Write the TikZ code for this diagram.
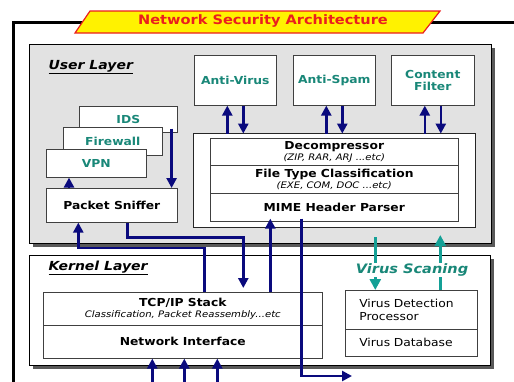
\documentclass[tikz,border=0pt]{standalone}
\usepackage{fontspec}
\setmainfont{DejaVu Sans}[FakeStretch=1.12]
\usetikzlibrary{arrows.meta,shadows}
\definecolor{navyarr}{RGB}{10,10,125}
\definecolor{tealtxt}{RGB}{25,135,120}
\definecolor{tealarr}{RGB}{20,160,150}
\definecolor{layerfill}{RGB}{226,226,226}
\definecolor{bannerred}{RGB}{235,30,30}
\newcommand\subtxt[1]{{\normalfont\itshape\fontsize{9}{10}\selectfont #1}}

\begin{document}
\begin{tikzpicture}[
        x=1pt, y=-1pt,
        layer/.style={draw=black, line width=1.2pt, anchor=north west, inner sep=0pt,
            drop shadow={shadow xshift=3pt, shadow yshift=-3pt, fill=black!65, opacity=1}},
        box/.style={draw=black!75, line width=0.6pt, fill=white, anchor=north west, inner sep=0pt,
            align=center, font=\bfseries\fontsize{11}{12}\selectfont},
        tool/.style={box, text=tealtxt},
        virus/.style={box, font=\fontsize{11}{13.5}\selectfont, align=left, inner xsep=14pt,
            text width=104pt, minimum width=132pt},
        lbl/.style={anchor=west, font=\bfseries\itshape\fontsize{12.5}{14}\selectfont},
        arr/.style={draw=navyarr, line width=2.6pt, -{Triangle[width=10pt,length=10pt]}},
        tarr/.style={draw=tealarr, line width=2.8pt, -{Triangle[width=11pt,length=11pt]}},
    ]
    \useasboundingbox (0,0) rectangle (514,381);
    \draw[line width=3pt] (516,22) -| (13,384);

    \node[layer, fill=layerfill, minimum width=462pt, minimum height=199pt] (user) at (29,44) {};
    \node[layer, fill=white, minimum width=461pt, minimum height=110pt] (kernel) at (29,255) {};
    \node[lbl] (userlbl) at (45,67) {\underline{User Layer}};
    \node[lbl] (kernellbl) at (45,268) {\underline{Kernel Layer}};

    \draw[bannerred, fill=yellow, line width=1.2pt] (90,11) -- (440,11) -- (423,33) -- (75,33) -- cycle;
    \node[text=bannerred, font=\bfseries\fontsize{13}{14}\selectfont] (title) at (263,21) {Network Security Architecture};

    \node[tool, minimum width=82pt, minimum height=50pt] (av) at (194,55) {Anti-Virus};
    \node[tool, minimum width=82pt, minimum height=50pt] (as) at (293,55) {Anti-Spam};
    \node[tool, minimum width=83pt, minimum height=50pt] (cf) at (391,55) {Content\\Filter};

    \node[tool, minimum width=98pt, minimum height=26pt] (ids) at (79,106) {IDS};
    \node[tool, minimum width=99pt, minimum height=28pt] (fw) at (63,127) {Firewall};
    \node[tool, minimum width=100pt, minimum height=28pt] (vpn) at (46,149) {VPN};
    \node[box, minimum width=131pt, minimum height=34pt] (sniffer) at (46,188) {Packet Sniffer};

    \node[box, draw=black!85, line width=1pt, minimum width=282pt, minimum height=94pt] (filter) at (193,133) {};
    \node[box, minimum width=248pt, minimum height=27pt] (decomp) at (210,138) {Decompressor\\[-1.5pt]\subtxt{(ZIP, RAR, ARJ ...etc)}};
    \node[box, minimum width=248pt, minimum height=28pt] (ftc) at (210,165) {File Type Classification\\[-1.5pt]\subtxt{(EXE, COM, DOC ...etc)}};
    \node[box, minimum width=248pt, minimum height=28pt] (mime) at (210,193) {MIME Header Parser};

    \node[box, minimum width=279pt, minimum height=33pt] (tcpip) at (43,292) {TCP/IP Stack\\[-1pt]\subtxt{Classification, Packet Reassembly...etc}};
    \node[box, minimum width=279pt, minimum height=33pt] (ni) at (43,325) {Network Interface};
    \node[virus, minimum height=39pt] (vdp) at (345,290) {Virus Detection\\Processor};
    \node[virus, minimum height=27pt] (vdb) at (345,329) {Virus Database};

    \foreach \t in {av,as,cf} {
        \draw[arr] ([xshift=-8pt,yshift=-28pt]\t.south) -- ([xshift=-8pt]\t.south);
        \draw[arr] ([xshift=8pt]\t.south) -- ([xshift=8pt,yshift=-28pt]\t.south);
    }
    \draw[arr] ([xshift=23pt]sniffer.north west) -- ([xshift=23pt]vpn.south west);
    \draw[arr] ([xshift=-6pt,yshift=4pt]ids.south east) -- ([xshift=-6pt]sniffer.north east);
    \draw[arr] ([xshift=15.5pt]sniffer.south) -- ++(0,15) -| ([xshift=60.5pt,yshift=4pt]tcpip.north);
    \draw[arr] ([xshift=21.5pt]tcpip.north) -- ++(0,-44) -| ([xshift=-33.5pt]sniffer.south);
    \draw[arr] ([xshift=87.5pt]tcpip.north) -- ([xshift=-64pt,yshift=3pt]mime.south);
    \coordinate (exit) at (352,376);
    \draw[arr] ([xshift=-33pt,yshift=3pt]mime.south) |- (exit);
    \foreach \dx in {-30.5,1.5,34.5}
        \draw[arr] ([xshift=\dx pt,yshift=-26pt]ni.south) -- ([xshift=\dx pt]ni.south);

    \draw[tarr] ([xshift=-36pt,yshift=53pt]vdp.north) -- ([xshift=-36pt]vdp.north);
    \draw[tarr] ([xshift=29pt]vdp.north) -- ([xshift=29pt,yshift=55pt]vdp.north);
    \node[text=tealtxt, fill=white, inner sep=1pt, font=\bfseries\itshape\fontsize{13}{14}\selectfont] (vscan) at (412,270) {Virus Scaning};
\end{tikzpicture}
\end{document}
